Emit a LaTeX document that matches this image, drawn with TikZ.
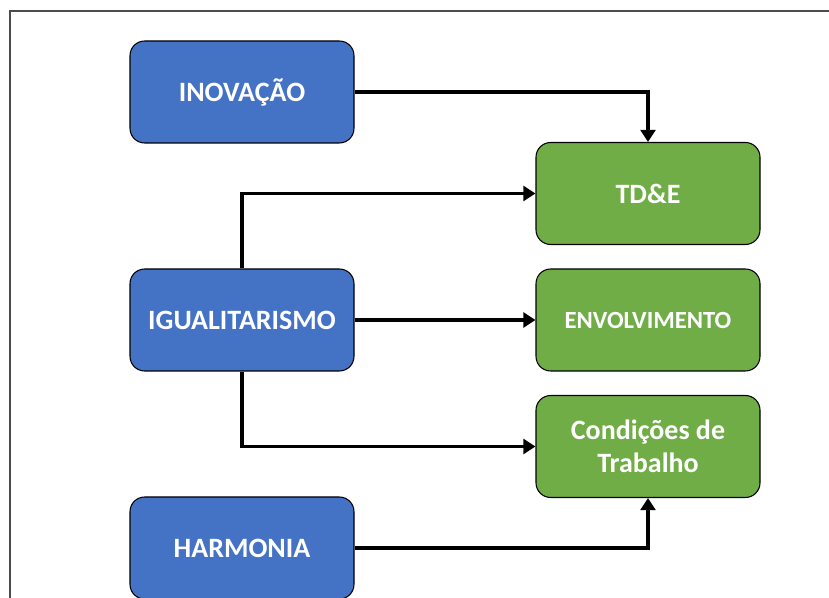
\documentclass[tikz,border=0pt]{standalone}
\usepackage{fontspec}
\setmainfont{Carlito}
\usetikzlibrary{arrows.meta}
\definecolor{boxblue}{HTML}{4472C4}
\definecolor{boxgreen}{HTML}{70AD47}
\tikzset{
  basebox/.style={draw=black, line width=0.8pt, rounded corners=11pt,
    minimum width=168pt, minimum height=76.5pt, text=white,
    font=\fontsize{21}{25}\selectfont\bfseries, align=center, inner sep=2pt},
  bluebox/.style={basebox, fill=boxblue},
  greenbox/.style={basebox, fill=boxgreen},
  arr/.style={draw=black, line width=2.7pt,
    -{Triangle[length=9pt,width=11pt]}},
}
\begin{document}
\begin{tikzpicture}[x=0.75pt,y=-0.75pt]
\useasboundingbox (0,0) rectangle (829,598);
\draw[line width=1.2pt, draw=black!70] (10,620) -- (10,11) -- (850,11);
\node[bluebox] (inov) at (242,92) {INOVAÇÃO};
\node[bluebox] (igual) at (242,320) {IGUALITARISMO};
\node[bluebox] (harm) at (242,548) {HARMONIA};
\node[greenbox] (tde) at (648,193.5) {TD\&E};
\node[greenbox, font=\fontsize{18.5}{22}\selectfont\bfseries] (env) at (648,320) {ENVOLVIMENTO};
\node[greenbox] (cond) at (648,446.5) {Condições de\\Trabalho};
\draw[arr] (inov.east) -| (tde.north);
\draw[arr] (igual.north) |- (tde.west);
\draw[arr] (igual.east) -- (env.west);
\draw[arr] (igual.south) |- (cond.west);
\draw[arr] (harm.east) -| (cond.south);
\end{tikzpicture}
\end{document}
